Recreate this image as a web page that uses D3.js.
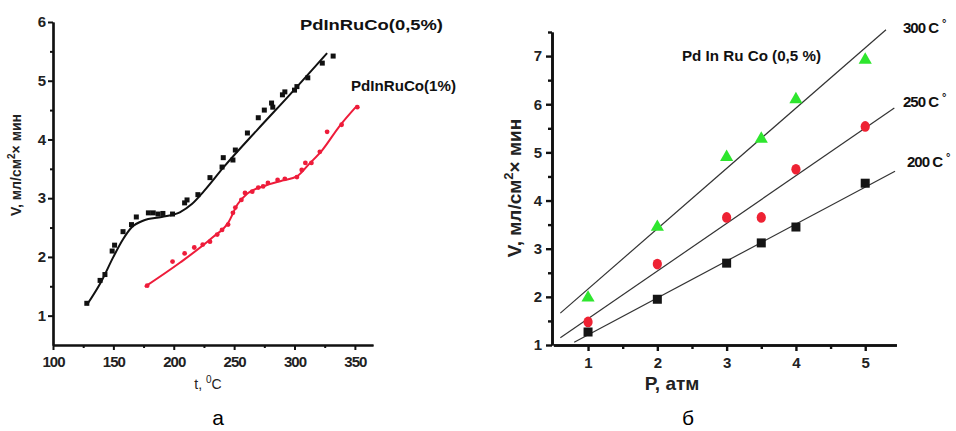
<!DOCTYPE html>
<html><head><meta charset="utf-8">
<script src="https://cdn.jsdelivr.net/npm/d3@7"></script>
<style>body{margin:0;background:#fff}svg{display:block}text{font-family:"Liberation Sans",Arial,sans-serif}</style>
</head><body><svg id="c" width="956" height="431"></svg>
<script>
// ---- Left chart (a): V vs t ----
const blackT = [128,139,143,149,151,158,165,169,179,183,187,191,199,209,211,220,230,240,241,249,251,261,270,275,281,282,290,292,300,302,311,323,332];
const blackV = [1.21,1.60,1.70,2.10,2.20,2.43,2.55,2.68,2.75,2.75,2.73,2.74,2.73,2.92,2.97,3.06,3.35,3.53,3.69,3.65,3.82,4.11,4.37,4.50,4.62,4.55,4.76,4.81,4.84,4.90,5.05,5.30,5.42];
const blackFitT = [128,140,150,158,165,175,190,205,215,225,241,269,296,327];
const blackFitV = [1.18,1.58,2.0,2.3,2.5,2.62,2.68,2.76,2.9,3.12,3.52,4.16,4.76,5.47];
const redT = [178,199,209,217,224,230,236,240,245,249,251,256,259,265,270,274,278,286,292,302,306,309,314,321,327,339,352];
const redV = [1.51,1.92,2.06,2.16,2.21,2.26,2.38,2.46,2.55,2.75,2.84,2.97,3.09,3.11,3.18,3.20,3.26,3.31,3.33,3.36,3.48,3.60,3.60,3.79,4.13,4.25,4.55];
const redFitT = [176,205,232,245,253,261,274,290,302,312,323,337,352];
const redFitV = [1.49,1.9,2.33,2.58,2.9,3.08,3.2,3.3,3.37,3.58,3.82,4.22,4.58];
const leftXTicks = [100,150,200,250,300,350];
const leftYTicks = [1,2,3,4,5,6];

// ---- Right chart (б): V vs P ----
const pressures = [1,2,3,3.5,4,5];
const v300 = [1.98,3.45,4.90,5.28,6.10,6.92];
const v250 = [1.48,2.68,3.65,3.65,4.65,5.54];
const v200 = [1.27,1.95,2.70,3.12,3.45,4.36];
const fitRange300 = [0.6,5.3];
const fitRange250 = [0.6,5.42];
const fitRange200 = [0.8,5.43];
const rightXTicks = [1,2,3,4,5];
const rightYTicks = [1,2,3,4,5,6,7];

const svg = d3.select("#c");
const fmt = d3.format("d");

// ===== Left chart =====
const lx = d3.scaleLinear().domain([100,365]).range([53,373]);
const ly = d3.scaleLinear().domain([0.5,6]).range([345,22]);
const L = svg.append("g");

function minorVals(arr, step){ const r=[]; for(let i=0;i<arr.length-1;i++) r.push(arr[i]+step/2); return r; }

L.append("g").attr("transform","translate(0,345)")
  .call(d3.axisBottom(lx).tickValues(leftXTicks).tickFormat(fmt).tickSize(5).tickPadding(6).tickSizeOuter(0));
L.append("g").attr("transform","translate(0,345)")
  .call(d3.axisBottom(lx).tickValues(minorVals(leftXTicks,50)).tickSize(3).tickFormat("").tickSizeOuter(0));
L.append("g").attr("transform","translate(53,0)")
  .call(d3.axisLeft(ly).tickValues(leftYTicks).tickFormat(fmt).tickSize(5).tickPadding(3).tickSizeOuter(0));
L.append("g").attr("transform","translate(53,0)")
  .call(d3.axisLeft(ly).tickValues(minorVals(leftYTicks,1)).tickSize(3).tickFormat("").tickSizeOuter(0));
L.selectAll(".domain").attr("stroke","#111").attr("stroke-width",2.2);
L.selectAll(".tick line").attr("stroke","#111").attr("stroke-width",2);
L.selectAll(".tick text").attr("font-size",15).attr("fill","#222").attr("font-weight","bold").attr("letter-spacing","-1");

const lineL = d3.line().x(d=>lx(d[0])).y(d=>ly(d[1])).curve(d3.curveMonotoneX);
L.append("path").datum(blackFitT.map((t,i)=>[t,blackFitV[i]]))
  .attr("d",lineL).attr("fill","none").attr("stroke","#111").attr("stroke-width",2);
L.append("path").datum(redFitT.map((t,i)=>[t,redFitV[i]]))
  .attr("d",lineL).attr("fill","none").attr("stroke","#ee1c3a").attr("stroke-width",2);
L.selectAll(".bp").data(blackT.map((t,i)=>[t,blackV[i]])).join("rect")
  .attr("x",d=>lx(d[0])-2.5).attr("y",d=>ly(d[1])-2.5).attr("width",5).attr("height",5).attr("fill","#111");
L.selectAll(".rp").data(redT.map((t,i)=>[t,redV[i]])).join("circle")
  .attr("cx",d=>lx(d[0])).attr("cy",d=>ly(d[1])).attr("r",2.4).attr("fill","#ee1c3a");

L.append("text").attr("transform","translate(21,165) rotate(-90)").attr("text-anchor","middle")
  .attr("font-size",14).attr("font-weight","bold").attr("fill","#222")
  .html('V, мл/см<tspan dy="-6" font-size="10">2</tspan><tspan dy="6">× мин</tspan>');
L.append("text").attr("x",208).attr("y",389).attr("text-anchor","middle").attr("font-size",14).attr("fill","#222")
  .html('t, <tspan dy="-6" font-size="10">0</tspan><tspan dy="6">C</tspan>');
L.append("text").attr("x",300).attr("y",30).attr("font-size",15).attr("font-weight","bold").attr("fill","#111")
  .attr("textLength",143).attr("lengthAdjust","spacingAndGlyphs").text("PdInRuCo(0,5%)");
L.append("text").attr("x",351).attr("y",91).attr("font-size",15).attr("font-weight","bold").attr("fill","#111")
  .attr("textLength",105).attr("lengthAdjust","spacingAndGlyphs").text("PdInRuCo(1%)");
L.append("text").attr("x",218).attr("y",425).attr("text-anchor","middle").attr("font-size",21)
  .attr("font-family","Liberation Serif, serif").text("а");

// ===== Right chart =====
const rx = d3.scaleLinear().domain([0.5,5.45]).range([553.4,896.4]);
const ry = d3.scaleLinear().domain([1,7.5]).range([345,32]);
const R = svg.append("g");
R.append("g").attr("transform","translate(0,345)")
  .call(d3.axisBottom(rx).tickValues(rightXTicks).tickFormat(fmt).tickSize(6).tickPadding(6).tickSizeOuter(0));
R.append("g").attr("transform","translate(0,345)")
  .call(d3.axisBottom(rx).tickValues(minorVals(rightXTicks,1)).tickSize(4).tickFormat("").tickSizeOuter(0));
R.append("g").attr("transform","translate(552,0)")
  .call(d3.axisLeft(ry).tickValues(rightYTicks).tickFormat(fmt).tickSize(6).tickPadding(4).tickSizeOuter(0));
R.append("g").attr("transform","translate(552,0)")
  .call(d3.axisLeft(ry).tickValues(minorVals(rightYTicks,1).concat([7.5])).tickSize(4).tickFormat("").tickSizeOuter(0));
R.selectAll(".domain").attr("stroke","#111").attr("stroke-width",2.6);
R.selectAll(".tick line").attr("stroke","#111").attr("stroke-width",2.4);
R.selectAll(".tick text").attr("font-size",15).attr("font-weight","bold").attr("fill","#222");

function fit(xs, ys){
  const n=xs.length, mx=d3.mean(xs), my=d3.mean(ys);
  let sxy=0,sxx=0; for(let i=0;i<n;i++){sxy+=(xs[i]-mx)*(ys[i]-my); sxx+=(xs[i]-mx)**2;}
  const b=sxy/sxx; return {b, a:my-b*mx};
}
const series = [
  {v:v300, range:fitRange300, shape:"tri", color:"#2ee62e"},
  {v:v250, range:fitRange250, shape:"circ", color:"#ee2233"},
  {v:v200, range:fitRange200, shape:"sq", color:"#151515"}
];
series.forEach(s=>{
  const f=fit(pressures,s.v);
  R.append("line").attr("x1",rx(s.range[0])).attr("y1",ry(f.a+f.b*s.range[0]))
    .attr("x2",rx(s.range[1])).attr("y2",ry(f.a+f.b*s.range[1]))
    .attr("stroke","#333").attr("stroke-width",1.2);
});
series.forEach(s=>{
  const pts = pressures.map((p,i)=>[p,s.v[i]]);
  if(s.shape==="tri"){
    R.selectAll(null).data(pts).join("path")
      .attr("d",d3.symbol(d3.symbolTriangle,75))
      .attr("transform",d=>`translate(${rx(d[0])},${ry(d[1])})`).attr("fill",s.color);
  } else if(s.shape==="circ"){
    R.selectAll(null).data(pts).join("ellipse")
      .attr("cx",d=>rx(d[0])).attr("cy",d=>ry(d[1])).attr("rx",4.6).attr("ry",5.3).attr("fill",s.color);
  } else {
    R.selectAll(null).data(pts).join("rect")
      .attr("x",d=>rx(d[0])-4.5).attr("y",d=>ry(d[1])-4.5).attr("width",9).attr("height",9).attr("fill",s.color);
  }
});

R.append("text").attr("transform","translate(521,188) rotate(-90)").attr("text-anchor","middle")
  .attr("font-size",19).attr("font-weight","bold").attr("fill","#222")
  .html('V, мл/см<tspan dy="-8" font-size="13">2</tspan><tspan dy="8">× мин</tspan>');
R.append("text").attr("x",672).attr("y",390).attr("text-anchor","middle").attr("font-size",19)
  .attr("font-weight","bold").attr("fill","#222").text("P, атм");
R.append("text").attr("x",682).attr("y",61).attr("font-size",14).attr("font-weight","bold").attr("fill","#111")
  .attr("textLength",139).attr("lengthAdjust","spacingAndGlyphs").text("Pd In Ru Co (0,5 %)");
const tempLabels = [["300 C",903,33],["250 C",903,107],["200 C",907,167]];
tempLabels.forEach(t=>{
  R.append("text").attr("x",t[1]).attr("y",t[2]).attr("font-size",15).attr("font-weight","bold").attr("fill","#111")
    .attr("letter-spacing","-1")
    .html(t[0]+'<tspan dx="4" dy="-6" font-size="11">°</tspan>');
});
R.append("text").attr("x",688).attr("y",425).attr("text-anchor","middle").attr("font-size",21)
  .attr("font-family","Liberation Serif, serif").text("б");
</script></body></html>
